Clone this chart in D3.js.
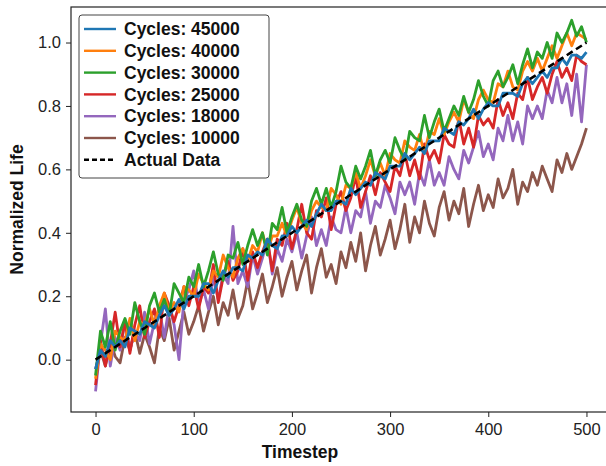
<!DOCTYPE html>
<html>
<head>
<meta charset="utf-8">
<script src="https://cdn.jsdelivr.net/npm/d3@7"></script>
<style>
  body { margin: 0; background: #fff; }
  svg { display: block; }
  .tick text { font-family: "Liberation Sans", Arial, sans-serif; font-size: 16.5px; fill: #222; }
  .tick line { stroke: #222; }
  .lbl { font-family: "Liberation Sans", Arial, sans-serif; font-weight: bold; font-size: 17.5px; fill: #111; }
</style>
</head>
<body>
<div class="dataviz"><svg></svg></div>
<script>
// values, one every 5 timesteps
var seriesNames = ["Cycles: 45000", "Cycles: 40000", "Cycles: 30000", "Cycles: 25000", "Cycles: 18000", "Cycles: 10000"];
var seriesColors = ["#1f77b4", "#ff7f0e", "#2ca02c", "#d62728", "#9467bd", "#8c564b"];
var timesteps = d3.range(0, 501, 5);

var cycles45000 = [
  -0.03, 0.03, 0.01, 0.06, 0.04, 0.06, 0.04, 0.10, 0.09, 0.08,
  0.12, 0.11, 0.10, 0.14, 0.17, 0.14, 0.16, 0.19, 0.16, 0.20,
  0.20, 0.20, 0.24, 0.24, 0.21, 0.25, 0.28, 0.26, 0.29, 0.29,
  0.28, 0.33, 0.32, 0.34, 0.33, 0.38, 0.36, 0.35, 0.39, 0.39,
  0.42, 0.40, 0.42, 0.44, 0.42, 0.46, 0.49, 0.47, 0.47, 0.50,
  0.50, 0.49, 0.54, 0.52, 0.54, 0.56, 0.55, 0.59, 0.58, 0.57,
  0.61, 0.61, 0.61, 0.65, 0.63, 0.65, 0.67, 0.65, 0.69, 0.69,
  0.69, 0.73, 0.72, 0.71, 0.75, 0.74, 0.76, 0.79, 0.76, 0.79,
  0.81, 0.80, 0.80, 0.84, 0.84, 0.84, 0.83, 0.87, 0.89, 0.87,
  0.89, 0.91, 0.89, 0.92, 0.92, 0.95, 0.93, 0.96, 0.96, 0.95, 0.97];

var cycles40000 = [
  -0.06, 0.05, 0.03, 0.00, 0.09, 0.07, 0.06, 0.13, 0.06, 0.12,
  0.11, 0.16, 0.11, 0.17, 0.21, 0.15, 0.18, 0.15, 0.23, 0.22,
  0.20, 0.27, 0.24, 0.22, 0.28, 0.26, 0.33, 0.29, 0.26, 0.32,
  0.35, 0.31, 0.36, 0.34, 0.40, 0.34, 0.39, 0.39, 0.43, 0.39,
  0.44, 0.48, 0.43, 0.41, 0.47, 0.50, 0.48, 0.47, 0.54, 0.52,
  0.49, 0.55, 0.54, 0.59, 0.54, 0.58, 0.63, 0.58, 0.62, 0.58,
  0.65, 0.63, 0.62, 0.69, 0.67, 0.66, 0.71, 0.65, 0.72, 0.71,
  0.76, 0.71, 0.75, 0.78, 0.75, 0.82, 0.78, 0.76, 0.82, 0.85,
  0.82, 0.81, 0.87, 0.86, 0.91, 0.86, 0.85, 0.91, 0.94, 0.91,
  0.95, 0.91, 0.95, 0.99, 0.95, 0.99, 1.03, 0.99, 1.03, 1.02, 1.01];

var cycles30000 = [
  -0.05, 0.09, 0.04, 0.12, 0.03, 0.09, 0.13, 0.08, 0.18, 0.12,
  0.08, 0.17, 0.21, 0.15, 0.19, 0.14, 0.24, 0.21, 0.18, 0.26,
  0.23, 0.30, 0.23, 0.28, 0.34, 0.27, 0.25, 0.33, 0.32, 0.37,
  0.30, 0.36, 0.41, 0.36, 0.40, 0.33, 0.43, 0.41, 0.48, 0.40,
  0.45, 0.49, 0.44, 0.42, 0.50, 0.54, 0.49, 0.54, 0.48, 0.53,
  0.61, 0.56, 0.54, 0.61, 0.57, 0.61, 0.66, 0.58, 0.63, 0.66,
  0.62, 0.70, 0.66, 0.63, 0.72, 0.70, 0.69, 0.77, 0.70, 0.75,
  0.79, 0.72, 0.76, 0.80, 0.77, 0.83, 0.78, 0.82, 0.88, 0.83,
  0.80, 0.88, 0.91, 0.86, 0.89, 0.93, 0.87, 0.93, 0.98, 0.92,
  0.97, 0.95, 1.00, 0.95, 1.03, 1.00, 1.03, 1.07, 1.02, 1.05, 1.00];

var cycles25000 = [
  -0.08, 0.06, -0.02, 0.05, 0.15, 0.04, 0.12, 0.02, 0.11, 0.17,
  0.07, 0.12, 0.16, 0.07, 0.21, 0.17, 0.12, 0.17, 0.23, 0.17,
  0.23, 0.16, 0.23, 0.21, 0.30, 0.18, 0.26, 0.31, 0.25, 0.28,
  0.35, 0.25, 0.34, 0.29, 0.34, 0.38, 0.28, 0.38, 0.36, 0.43,
  0.35, 0.41, 0.49, 0.40, 0.38, 0.47, 0.45, 0.51, 0.41, 0.49,
  0.53, 0.47, 0.51, 0.58, 0.48, 0.53, 0.58, 0.52, 0.59, 0.56,
  0.53, 0.61, 0.58, 0.65, 0.58, 0.63, 0.57, 0.68, 0.63, 0.66,
  0.62, 0.71, 0.68, 0.67, 0.76, 0.68, 0.73, 0.67, 0.77, 0.74,
  0.76, 0.73, 0.82, 0.77, 0.81, 0.76, 0.84, 0.82, 0.89, 0.82,
  0.86, 0.89, 0.84, 0.90, 0.94, 0.89, 0.92, 0.88, 0.96, 0.94, 0.93];

var cycles18000 = [
  -0.10, 0.05, 0.16, -0.02, 0.07, 0.03, 0.12, 0.03, 0.09, 0.06,
  0.15, 0.05, 0.12, 0.16, 0.07, 0.17, 0.11, 0.00, 0.19, 0.22,
  0.28, 0.17, 0.22, 0.16, 0.26, 0.19, 0.27, 0.24, 0.42, 0.24,
  0.28, 0.23, 0.33, 0.27, 0.32, 0.38, 0.27, 0.35, 0.31, 0.38,
  0.34, 0.40, 0.32, 0.39, 0.45, 0.36, 0.41, 0.36, 0.45, 0.41,
  0.40, 0.48, 0.40, 0.47, 0.45, 0.53, 0.43, 0.50, 0.48, 0.55,
  0.51, 0.46, 0.56, 0.52, 0.56, 0.49, 0.59, 0.55, 0.63, 0.55,
  0.59, 0.55, 0.64, 0.60, 0.57, 0.66, 0.62, 0.67, 0.72, 0.64,
  0.68, 0.63, 0.73, 0.69, 0.77, 0.69, 0.75, 0.68, 0.80, 0.76,
  0.80, 0.76, 0.85, 0.81, 0.89, 0.81, 0.87, 0.77, 0.90, 0.75, 0.93];

var cycles10000 = [
  -0.03, 0.03, -0.02, 0.06, 0.01, -0.01, 0.07, 0.03, 0.09, 0.02,
  0.08, 0.04, -0.01, 0.10, 0.06, 0.13, 0.03, 0.09, 0.15, 0.08,
  0.12, 0.17, 0.09, 0.15, 0.20, 0.11, 0.18, 0.14, 0.22, 0.13,
  0.17, 0.25, 0.16, 0.21, 0.27, 0.18, 0.23, 0.29, 0.20, 0.26,
  0.31, 0.22, 0.28, 0.33, 0.21, 0.29, 0.35, 0.26, 0.30, 0.24,
  0.34, 0.29, 0.37, 0.31, 0.40, 0.28, 0.36, 0.42, 0.33, 0.38,
  0.44, 0.35, 0.41, 0.49, 0.37, 0.45, 0.40, 0.50, 0.43, 0.39,
  0.48, 0.53, 0.44, 0.50, 0.46, 0.54, 0.42, 0.49, 0.55, 0.47,
  0.52, 0.48, 0.57, 0.51, 0.54, 0.60, 0.49, 0.56, 0.53, 0.59,
  0.55, 0.61, 0.57, 0.53, 0.63, 0.59, 0.65, 0.60, 0.64, 0.68, 0.73];

var actualX = [0, 500];
var actualY = [0.0, 1.0];

var xTicks = [0, 100, 200, 300, 400, 500];
var yTicks = [0.0, 0.2, 0.4, 0.6, 0.8, 1.0];

var allSeries = [cycles45000, cycles40000, cycles30000, cycles25000, cycles18000, cycles10000];

width = 606;
height = 466;
margin = ({top: 7, right: -5, bottom: 54, left: 71});

var x = d3.scaleLinear()
  .domain([-25, 525])
  .range([margin.left, width - margin.right]);

var y = d3.scaleLinear()
  .domain([-0.165, 1.112])
  .range([height - margin.bottom, margin.top]);

const svg = d3.select(".dataviz > svg")
  .attr("width", width)
  .attr("height", height);

var line = d3.line()
  .x((d, i) => x(timesteps[i]))
  .y(d => y(d));

// draw order: brown at the back, blue on top, dashed line last
var drawOrder = [5, 4, 3, 1, 2, 0];
svg.append("g")
  .attr("class", "series")
  .selectAll("path")
  .data(drawOrder)
  .join("path")
    .attr("d", k => line(allSeries[k]))
    .attr("fill", "none")
    .attr("stroke", k => seriesColors[k])
    .attr("stroke-width", 2.8)
    .attr("stroke-linejoin", "round");

svg.append("path")
  .attr("d", d3.line().x((d, i) => x(actualX[i])).y(d => y(d))(actualY))
  .attr("fill", "none")
  .attr("stroke", "#000")
  .attr("stroke-width", 2.6)
  .attr("stroke-dasharray", "7,4");

// frame
svg.append("rect")
  .attr("x", margin.left)
  .attr("y", margin.top)
  .attr("width", width - margin.right - margin.left)
  .attr("height", height - margin.bottom - margin.top)
  .attr("fill", "none")
  .attr("stroke", "#222")
  .attr("stroke-width", 1.2);

svg.append("g")
  .attr("transform", `translate(0,${height - margin.bottom})`)
  .call(d3.axisBottom(x).tickValues(xTicks).tickSize(5).tickPadding(6).tickFormat(d3.format("d")))
  .call(g => g.select(".domain").remove());

svg.append("g")
  .attr("transform", `translate(${margin.left},0)`)
  .call(d3.axisLeft(y).tickValues(yTicks).tickSize(5).tickPadding(5).tickFormat(d3.format(".1f")))
  .call(g => g.select(".domain").remove());

svg.append("text")
  .attr("class", "lbl")
  .attr("x", 300)
  .attr("y", 458)
  .attr("text-anchor", "middle")
  .text("Timestep");

svg.append("text")
  .attr("class", "lbl")
  .attr("transform", `translate(23,${(margin.top + height - margin.bottom) / 2}) rotate(-90)`)
  .attr("text-anchor", "middle")
  .text("Normalized Life");

// legend
var legendItems = seriesNames.map((n, i) => ({name: n, color: seriesColors[i], dash: null}))
  .concat([{name: "Actual Data", color: "#000", dash: "5,3"}]);

var legend = svg.append("g").attr("class", "legend");
legend.append("rect")
  .attr("x", 79).attr("y", 15)
  .attr("width", 190).attr("height", 163)
  .attr("rx", 3)
  .attr("fill", "#fff")
  .attr("stroke", "#444")
  .attr("stroke-width", 1);

var rows = legend.selectAll("g.row")
  .data(legendItems)
  .join("g")
    .attr("class", "row")
    .attr("transform", (d, i) => `translate(84,${29 + i * 21.8})`);

rows.append("line")
  .attr("x1", 0).attr("x2", 32)
  .attr("stroke", d => d.color)
  .attr("stroke-width", 2.4)
  .attr("stroke-dasharray", d => d.dash);

rows.append("text")
  .attr("class", "lbl")
  .attr("x", 40)
  .attr("dy", "0.35em")
  .text(d => d.name);
</script>
</body>
</html>
